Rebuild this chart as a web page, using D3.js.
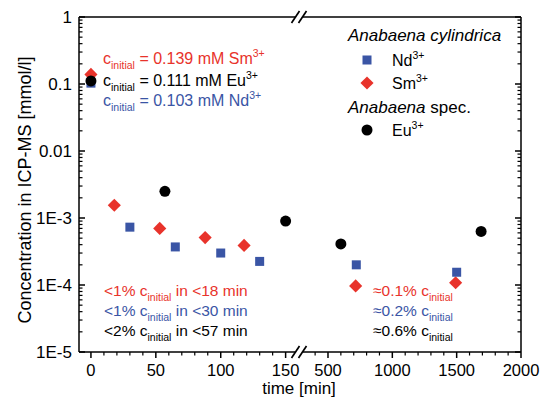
<!DOCTYPE html>
<html><head><meta charset="utf-8">
<script src="https://cdn.jsdelivr.net/npm/d3@7"></script>
<style>body{margin:0;background:#fff}svg{display:block}text{font-family:Arial,"Liberation Sans",sans-serif}</style>
</head><body><svg id="c" width="541" height="398"></svg>
<script>
// ---- data ----
const ndTime = [0, 30, 65, 100, 130, 720, 1500];
const ndConc = [0.103, 7.3e-4, 3.7e-4, 3.0e-4, 2.25e-4, 2.0e-4, 1.55e-4];
const smTime = [0, 18, 53, 88, 118, 715, 1492];
const smConc = [0.139, 1.55e-3, 7.0e-4, 5.1e-4, 3.9e-4, 9.7e-5, 1.08e-4];
const euTime = [0, 57, 150, 600, 1690];
const euConc = [0.111, 2.5e-3, 9.0e-4, 4.1e-4, 6.3e-4];
const xTicksLeft = [0, 50, 100, 150];
const xTicksRight = [500, 1000, 1500, 2000];
const yTicks = [1, 0.1, 0.01, 1e-3, 1e-4, 1e-5];
const yTickLabels = ["1", "0.1", "0.01", "1E-3", "1E-4", "1E-5"];

const RED = "#e8332b", BLUE = "#3a55a5", BLACK = "#000";
const svg = d3.select("#c");
const L = 79, R = 521, T = 17, B = 352, BRK = 299;
const xL = d3.scaleLinear().domain([-9.2, 158]).range([L, 296]);
const xR = d3.scaleLinear().domain([298, 2000]).range([302, R]);
const x = t => t <= 200 ? xL(t) : xR(t);
const y = d3.scaleLog().domain([1e-5, 1]).range([B, T]);

// frame
const ax = svg.append("g").attr("stroke", "#000").attr("stroke-width", 1.5).attr("fill", "none");
ax.append("line").attr("x1", L).attr("x2", L).attr("y1", T).attr("y2", B);
ax.append("line").attr("x1", R).attr("x2", R).attr("y1", T).attr("y2", B);
[T, B].forEach(yy => {
  ax.append("line").attr("x1", L).attr("x2", BRK - 4).attr("y1", yy).attr("y2", yy);
  ax.append("line").attr("x1", BRK + 4).attr("x2", R).attr("y1", yy).attr("y2", yy);
  [-3.5, 3.5].forEach(o => ax.append("line").attr("stroke-width", 1.7)
    .attr("x1", BRK + o - 4).attr("y1", yy + 6).attr("x2", BRK + o + 4).attr("y2", yy - 6));
});

// y ticks (inward, both sides)
const minorY = [];
for (let e = -5; e < 0; e++) for (let m = 2; m <= 9; m++) minorY.push(m * Math.pow(10, e));
yTicks.forEach(v => {
  ax.append("line").attr("x1", L).attr("x2", L + 6).attr("y1", y(v)).attr("y2", y(v));
  ax.append("line").attr("x1", R).attr("x2", R - 6).attr("y1", y(v)).attr("y2", y(v));
});
minorY.forEach(v => {
  ax.append("line").attr("stroke-width", 1.2).attr("x1", L).attr("x2", L + 3.5).attr("y1", y(v)).attr("y2", y(v));
  ax.append("line").attr("stroke-width", 1.2).attr("x1", R).attr("x2", R - 3.5).attr("y1", y(v)).attr("y2", y(v));
});
svg.append("g").selectAll("text").data(yTicks).join("text")
  .attr("x", 72).attr("y", d => y(d)).attr("dy", "0.36em").attr("text-anchor", "end")
  .attr("font-size", 17).text((d, i) => yTickLabels[i]);

// x ticks (outward)
const minorXL = d3.range(0, 160, 10).filter(v => v % 50);
const minorXR = d3.range(400, 2000, 100).filter(v => v % 500);
xTicksLeft.forEach(v => ax.append("line").attr("x1", xL(v)).attr("x2", xL(v)).attr("y1", B).attr("y2", B + 6));
xTicksRight.forEach(v => ax.append("line").attr("x1", xR(v)).attr("x2", xR(v)).attr("y1", B).attr("y2", B + 6));
minorXL.forEach(v => ax.append("line").attr("stroke-width", 1.2).attr("x1", xL(v)).attr("x2", xL(v)).attr("y1", B).attr("y2", B + 3.5));
minorXR.forEach(v => ax.append("line").attr("stroke-width", 1.2).attr("x1", xR(v)).attr("x2", xR(v)).attr("y1", B).attr("y2", B + 3.5));
const xl = svg.append("g").attr("font-size", 16.5).attr("text-anchor", "middle");
xTicksLeft.forEach(v => xl.append("text").attr("x", xL(v)).attr("y", 376).text(v));
xTicksRight.forEach(v => xl.append("text").attr("x", xR(v)).attr("y", 376).text(v));

// axis titles
svg.append("text").attr("x", 299).attr("y", 394).attr("text-anchor", "middle").attr("font-size", 17).text("time [min]");
svg.append("text").attr("transform", "translate(31,190) rotate(-90)").attr("text-anchor", "middle")
  .attr("font-size", 18).text("Concentration in ICP-MS [mmol/l]");

// markers
const g = svg.append("g");
g.selectAll(".sm").data(smTime).join("path")
  .attr("d", d3.symbol(d3.symbolDiamond2 || d3.symbolSquare2, 110))
  .attr("transform", (d, i) => `translate(${x(d)},${y(smConc[i])})`).attr("fill", RED);
g.selectAll(".nd").data(ndTime).join("rect")
  .attr("x", d => x(d) - 4.5).attr("width", 9).attr("height", 9)
  .attr("y", (d, i) => y(ndConc[i]) - 4.5).attr("fill", BLUE);
g.selectAll(".eu").data(euTime).join("circle")
  .attr("cx", d => x(d)).attr("cy", (d, i) => y(euConc[i])).attr("r", 5.5).attr("fill", BLACK);

// rich text helper
function rich(xp, yp, parts, color, size = 16) {
  const t = svg.append("text").attr("x", xp).attr("y", yp).attr("fill", color).attr("font-size", size);
  let shift = 0;
  parts.forEach(p => {
    const target = p.sub ? 5 : p.sup ? -7 : 0;
    const s = t.append("tspan").attr("dy", target - shift).text(p.t);
    if (p.sub || p.sup) s.attr("font-size", p.sub ? 10.5 : 10.5);
    if (p.it) s.attr("font-style", "italic");
    shift = target;
  });
  return t;
}
const ci = v => [{t: "c"}, {t: "initial", sub: 1}, {t: v}];
rich(103, 64, [...ci(" = 0.139 mM Sm"), {t: "3+", sup: 1}], RED);
rich(103, 86, [...ci(" = 0.111 mM Eu"), {t: "3+", sup: 1}], BLACK);
rich(103, 106, [...ci(" = 0.103 mM Nd"), {t: "3+", sup: 1}], BLUE);

rich(104, 296, [{t: "<1% "}, ...ci(" in <18 min")], RED, 15.5);
rich(104, 316, [{t: "<1% "}, ...ci(" in <30 min")], BLUE, 15.5);
rich(104, 336, [{t: "<2% "}, ...ci(" in <57 min")], BLACK, 15.5);

rich(373, 296, [{t: "\u22480.1% "}, ...ci("")], RED, 15.5);
rich(373, 316, [{t: "\u22480.2% "}, ...ci("")], BLUE, 15.5);
rich(373, 336, [{t: "\u22480.6% "}, ...ci("")], BLACK, 15.5);

// legend
rich(348, 41, [{t: "Anabaena cylindrica", it: 1}], BLACK, 17);
svg.append("rect").attr("x", 362.5).attr("y", 55.5).attr("width", 9).attr("height", 9).attr("fill", BLUE);
rich(392, 66, [{t: "Nd"}, {t: "3+", sup: 1}], BLACK);
svg.append("path").attr("d", d3.symbol(d3.symbolDiamond2 || d3.symbolSquare2, 110)).attr("transform", "translate(367,83)").attr("fill", RED);
rich(392, 89, [{t: "Sm"}, {t: "3+", sup: 1}], BLACK);
rich(348, 113, [{t: "Anabaena", it: 1}, {t: " spec."}], BLACK, 17);
svg.append("circle").attr("cx", 367).attr("cy", 130).attr("r", 5.5).attr("fill", BLACK);
rich(392, 136, [{t: "Eu"}, {t: "3+", sup: 1}], BLACK);
</script></body></html>
